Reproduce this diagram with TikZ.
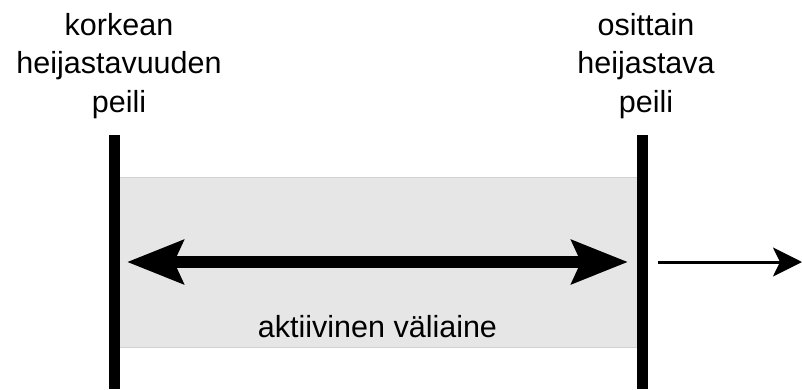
\documentclass[tikz,border=0pt]{standalone}
\usepackage{fontspec}
\setmainfont{Liberation Sans}
\usetikzlibrary{arrows.meta}
\definecolor{medium}{HTML}{E6E6E6}
\definecolor{mediumedge}{HTML}{D2D2D2}
\begin{document}
\begin{tikzpicture}[x=1pt,y=-1pt,
  label/.style={font=\fontsize{30.5}{38.5}\selectfont, align=center, inner sep=0pt, anchor=base},
  mirror/.style={line width=11pt},
  beam/.style={line width=12pt, {Stealth[length=56pt,width=43pt,inset=9pt]}-{Stealth[length=56pt,width=43pt,inset=9pt]}},
  output/.style={line width=3pt, -{Stealth[length=29pt,width=29pt,inset=7pt]}}]
\useasboundingbox (0,0) rectangle (802,389);
% gain medium between the mirrors
\fill[medium] (120,177) rectangle (637,347);
\draw[mediumedge, line width=0.8pt] (120,177) -- (637,177) (120,347) -- (637,347);
% mirror ends
\coordinate (hrtop) at (114.5,135);
\coordinate (hrbot) at (114.5,389);
\coordinate (octop) at (642.5,135);
\coordinate (ocbot) at (642.5,389);
\draw[mirror] (hrtop) -- (hrbot);
\draw[mirror] (octop) -- (ocbot);
% beam inside the cavity and the output beam
\coordinate (bl) at (127,262);
\coordinate (br) at (628,262);
\coordinate (os) at (658,262);
\coordinate (oe) at (802,262);
\draw[beam] (bl) -- (br);
\draw[output] (os) -- (oe);
% labels (anchored at the baseline of their last line)
\node[label] (hrlabel) at (119,112) {korkean\\heijastavuuden\\peili};
\node[label] (oclabel) at (646,112) {osittain\\heijastava\\peili};
\node[label] (mediumlabel) at (377.5,337) {aktiivinen väliaine};
\end{tikzpicture}
\end{document}
